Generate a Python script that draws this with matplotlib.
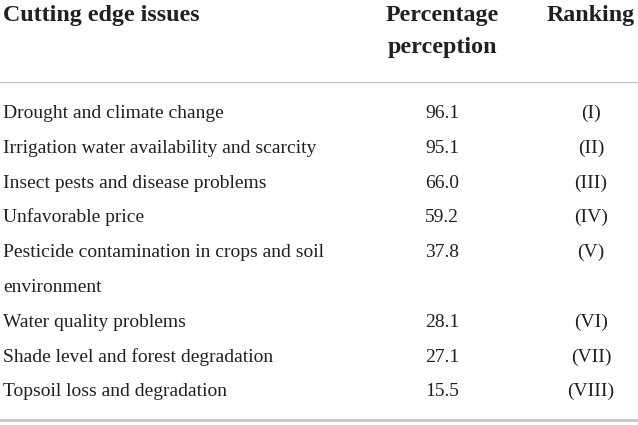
import matplotlib
matplotlib.use("Agg")
import matplotlib.pyplot as plt

# ── Table content ────────────────────────────────────────────────────────────
HEADERS = ["Cutting edge issues", "Percentage\nperception", "Ranking"]
ISSUES = [
    "Drought and climate change",
    "Irrigation water availability and scarcity",
    "Insect pests and disease problems",
    "Unfavorable price",
    "Pesticide contamination in crops and soil\nenvironment",
    "Water quality problems",
    "Shade level and forest degradation",
    "Topsoil loss and degradation",
]
PERCENT = [96.1, 95.1, 66.0, 59.2, 37.8, 28.1, 27.1, 15.5]
RANKS = ["I", "II", "III", "IV", "V", "VI", "VII", "VIII"]

# ── Layout (pixel coordinates) ───────────────────────────────────────────────
W, H = 638, 425
X_ISSUE, X_PCT, X_RANK = 3, 442, 591
HEAD_BASE, HEAD_STEP = 21, 32
BODY_BASE, ROW_STEP, WRAP_STEP = 118, 34.8, 34.8
RULE_TOP, RULE_BOTTOM = 82, 420
FS_HEAD, FS_BODY = 17.3, 14
TXT = "#231f20"
RULE = "#c8c8c8"

plt.rcParams["font.family"] = ["Liberation Serif", "DejaVu Serif"]

fig = plt.figure(figsize=(W / 100, H / 100), dpi=100)
ax = fig.add_axes([0, 0, 1, 1])
ax.set_xlim(0, W)
ax.set_ylim(H, 0)
ax.axis("off")

# header
for x, label, ha in zip([X_ISSUE, X_PCT, X_RANK], HEADERS, ["left", "center", "center"]):
    for i, line in enumerate(label.split("\n")):
        ax.text(x, HEAD_BASE + i * HEAD_STEP, line, ha=ha, va="baseline",
                fontsize=FS_HEAD, fontweight="bold", color=TXT)

ax.axhline(RULE_TOP, color=RULE, linewidth=1.0)

# body
y = BODY_BASE
for issue, pct, rank in zip(ISSUES, PERCENT, RANKS):
    lines = issue.split("\n")
    for i, line in enumerate(lines):
        ax.text(X_ISSUE, y + i * WRAP_STEP, line, ha="left", va="baseline",
                fontsize=FS_BODY, color=TXT)
    ax.text(X_PCT, y, f"{pct:.1f}", ha="center", va="baseline", fontsize=FS_BODY, color=TXT)
    ax.text(X_RANK, y, f"({rank})", ha="center", va="baseline", fontsize=FS_BODY, color=TXT)
    y += (len(lines) - 1) * WRAP_STEP + ROW_STEP

ax.axhline(RULE_BOTTOM, color=RULE, linewidth=2.2)

fig.savefig("out.png", dpi=100)
